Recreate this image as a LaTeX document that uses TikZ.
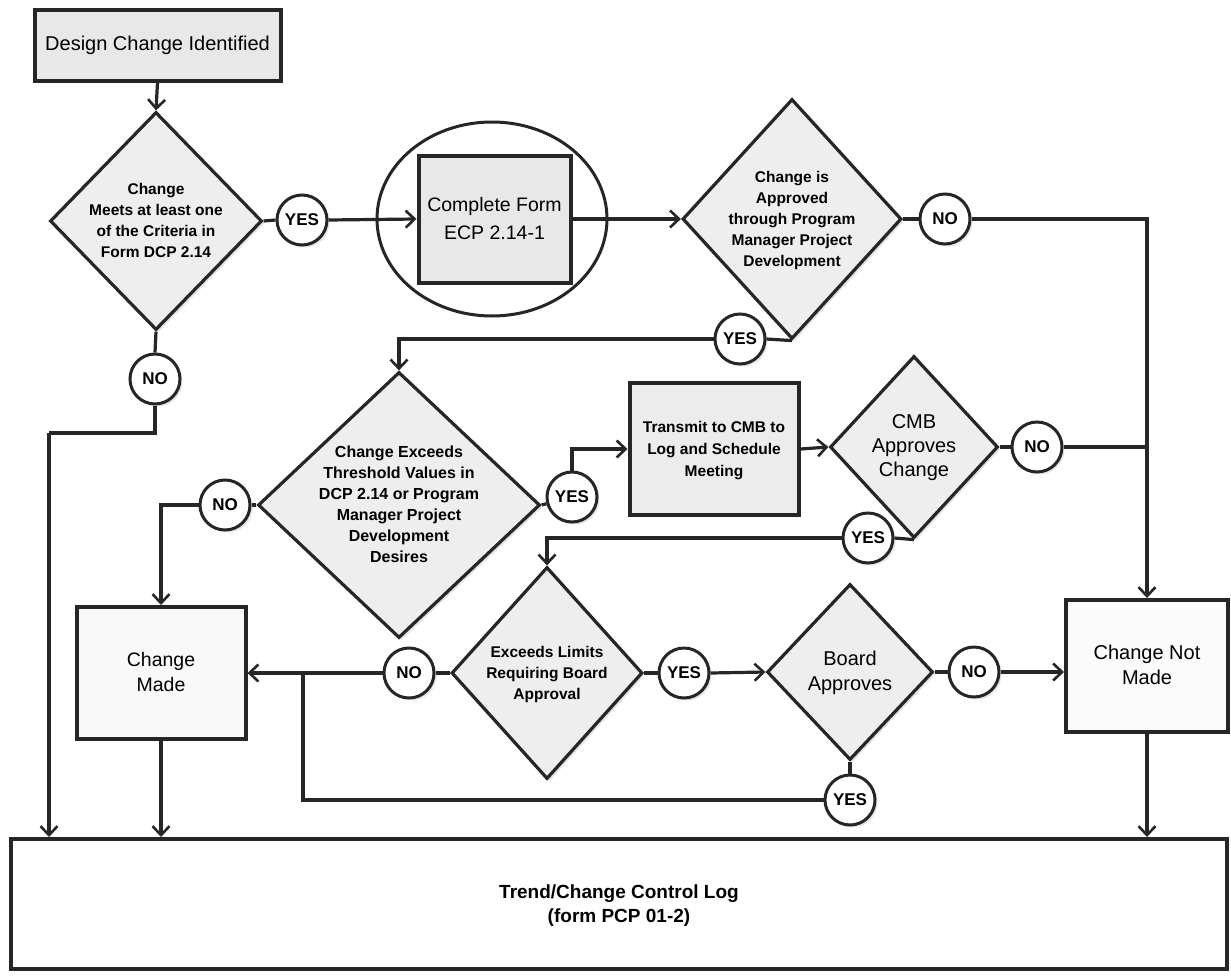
\documentclass[tikz,border=0pt]{standalone}
\usepackage{fontspec}
\setmainfont{Liberation Sans}
\usetikzlibrary{shapes.geometric,arrows.meta,shadows}
\newcommand\ztext[1]{\raisebox{-0.3em}[0pt][0pt]{\makebox[0pt]{\begin{tabular}{@{}c@{}}#1\end{tabular}}}}
\tikzset{
  ink/.style={draw=black!85},
  conn/.style={ink, line width=3.2pt},
  arr/.style={conn, -{Straight Barb[length=9pt,width=17pt,line width=2.6pt]}},
  dia/.style={shape=diamond, ink, line width=3.2pt, fill=gray!13, inner sep=0pt,
    drop shadow={shadow xshift=2.5pt,shadow yshift=-2.5pt,fill=gray!45}},
  boldtxt/.style={font=\fontsize{15.5}{21}\selectfont\bfseries},
  regtxt/.style={font=\fontsize{20}{25}\selectfont},
  circ/.style={circle, ink, line width=3pt, fill=white, minimum size=50pt, inner sep=0pt,
    font=\fontsize{17}{18}\selectfont\bfseries,
    drop shadow={shadow xshift=2.5pt,shadow yshift=-2.5pt,fill=gray!40}},
  box/.style={rectangle, ink, line width=4pt, inner sep=0pt}
}
\begin{document}
\begin{tikzpicture}[x=1pt,y=-1pt]
\useasboundingbox[fill=white] (0,0) rectangle (1231,977);

% top box
\node[box, fill=gray!18, minimum width=246pt, minimum height=71pt, regtxt] (design) at (157.5,45) {\ztext{Design Change Identified}};

% diamond 1
\node[dia, minimum width=212pt, minimum height=218pt, boldtxt] (d1) at (156,221)
  {\ztext{Change\\Meets at least one\\of the Criteria in\\Form DCP 2.14}};
\node[circ] (yes1) at (302,220) {YES};
\node[circ] (no1) at (155,379) {NO};

% complete form
\node[ellipse, ink, line width=3pt, minimum width=230pt, minimum height=194pt, inner sep=0pt] (ell) at (492,219) {};
\node[box, fill=gray!18, minimum width=152pt, minimum height=127pt, font=\fontsize{19.5}{28}\selectfont] (form) at (494.5,219) {\ztext{Complete Form\\ECP 2.14-1}};

% diamond 2
\node[dia, minimum width=219pt, minimum height=240pt, boldtxt] (d2) at (792,219)
  {\ztext{Change is\\Approved\\through Program\\Manager Project\\Development}};
\node[circ] (no2) at (945,219) {NO};
\node[circ] (yes2) at (740,339) {YES};

% diamond 3
\node[dia, minimum width=282pt, minimum height=266pt, font=\fontsize{16}{21}\selectfont\bfseries] (d3) at (399,505)
  {\ztext{Change Exceeds\\Threshold Values in\\DCP 2.14 or Program\\Manager Project\\Development\\Desires}};
\node[circ] (no3) at (225,505) {NO};
\node[circ] (yes3) at (572,497) {YES};

% transmit box
\node[box, fill=gray!15, minimum width=169pt, minimum height=132pt, font=\fontsize{15.5}{22}\selectfont\bfseries] (tx) at (714,449) {\ztext{Transmit to CMB to\\Log and Schedule\\Meeting}};

% diamond 4
\node[dia, minimum width=168pt, minimum height=182pt, font=\fontsize{20}{24}\selectfont] (d4) at (914,447)
  {\ztext{CMB\\Approves\\Change}};
\node[circ] (no4) at (1037,447) {NO};
\node[circ] (yes4) at (868,538) {YES};

% diamond 5
\node[dia, minimum width=191pt, minimum height=212pt, boldtxt] (d5) at (547,673)
  {\ztext{Exceeds Limits\\Requiring Board\\Approval}};
\node[circ] (no5) at (409,673) {NO};
\node[circ] (yes5) at (684,673) {YES};

% diamond 6
\node[dia, minimum width=166pt, minimum height=176pt, regtxt] (d6) at (850,672)
  {\ztext{Board\\Approves}};
\node[circ] (no6) at (974,672) {NO};
\node[circ] (yes6) at (850,800) {YES};

% outcome boxes
\node[box, fill=gray!5, minimum width=169pt, minimum height=132pt, font=\fontsize{19.5}{25}\selectfont] (made) at (161,673) {\ztext{Change\\Made}};
\node[box, fill=gray!3, minimum width=162pt, minimum height=132pt, regtxt] (notmade) at (1147,666) {\ztext{Change Not\\Made}};

% log
\node[box, fill=white, minimum width=1216pt, minimum height=130pt, font=\fontsize{19}{24}\selectfont\bfseries] (log) at (619,904) {\ztext{Trend/Change Control Log\\(form PCP 01-2)}};

\coordinate (j1) at (303,673);
\coordinate (j2) at (49,433);

% connectors
\draw[arr] (design.south) -- (d1.north);
\draw[conn] (d1.east) -- (yes1.west);
\draw[arr] (yes1.east) -- (form.west);
\draw[arr] (form.east) -- (d2.west);
\draw[conn] (d1.south) -- (no1.north);
\draw[conn] (no1.south) |- (j2);
\draw[arr] (j2) -- (j2 |- log.north);

\draw[arr] (no2.east) -| (notmade.north);
\draw[conn] (d2.east) -- (no2.west);
\draw[conn] (d2.south) -- (yes2.east);
\draw[arr] (yes2.west) -| (d3.north);

\draw[conn] (d3.west) -- (no3.east);
\draw[arr] (no3.west) -| (made.north);
\draw[conn] (d3.east) -- (yes3);
\draw[arr] (yes3.north) |- (tx.west);
\draw[arr] (tx.east) -- (d4.west);

\draw[conn] (d4.east) -- (no4.west);
\draw[conn] (no4.east) -- (no4.east -| notmade.north);
\draw[conn] (d4.south) -- (yes4.east);
\draw[arr] (yes4.west) -| (d5.north);

\draw[conn] (d5.west) -- (no5.east);
\draw[arr] (no5.west) -- (made.east);
\draw[conn] (d5.east) -- (yes5.west);
\draw[arr] (yes5.east) -- (d6.west);

\draw[arr] (no6.east) -- (no6.east -| notmade.west);
\draw[conn] (d6.east) -- (no6.west);
\draw[conn] (d6.south) -- (yes6.north);
\draw[conn] (yes6.west) -| (j1);

\draw[arr] (made.south) -- (made.south |- log.north);
\draw[arr] (notmade.south) -- (notmade.south |- log.north);
\end{tikzpicture}
\end{document}
